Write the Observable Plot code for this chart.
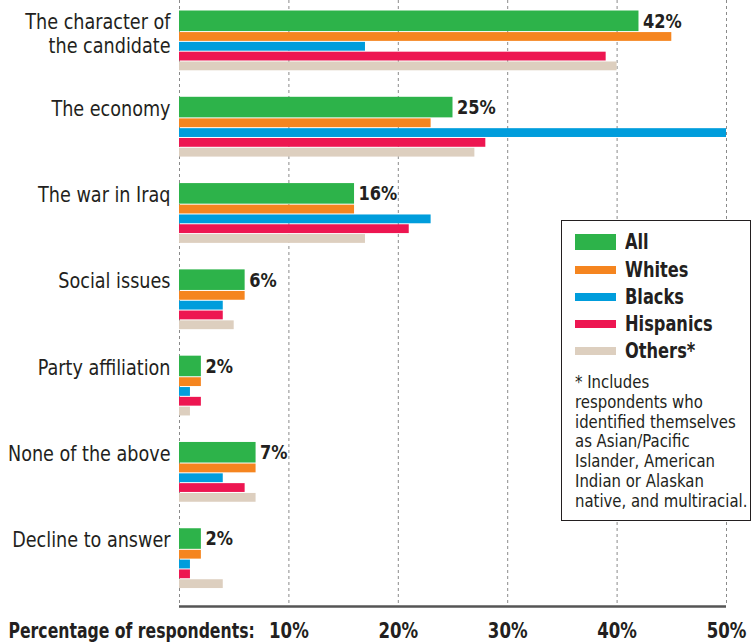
<!DOCTYPE html>
<html>
<head>
<meta charset="utf-8">
<script src="https://cdn.jsdelivr.net/npm/d3@7"></script>
<script src="https://cdn.jsdelivr.net/npm/@observablehq/plot@0.6"></script>
<style>
  html, body { margin: 0; padding: 0; background: #fff; }
  #wrap { position: relative; width: 752px; height: 644px; font-family: "DejaVu Sans Condensed", "DejaVu Sans", sans-serif; color: #231f20; }
  #legend { position: absolute; left: 561px; top: 220px; width: 188px; height: 299px; border: 1.5px solid #231f20; background: #fff; box-sizing: content-box; overflow: hidden; }
  .row { position: absolute; left: 13px; height: 27px; display: flex; align-items: center; white-space: nowrap; }
  .sw { width: 41px; margin-right: 9px; flex: none; }
  .lab { display: inline-block; font-weight: bold; font-size: 20.5px; line-height: 27px; transform: scaleX(0.88); transform-origin: left center; }
  #note { position: absolute; left: 13px; top: 151px; font-size: 18px; line-height: 19.8px; white-space: nowrap; transform: scaleX(0.92); transform-origin: left top; }
  #dbg { position: absolute; left: 300px; top: 60px; font: 10px monospace; white-space: pre; color: red; }
</style>
</head>
<body>
<div id="wrap"></div>
<script>
// ---- data ----
const categories = ["The character of\nthe candidate", "The economy", "The war in Iraq", "Social issues", "Party affiliation", "None of the above", "Decline to answer"];
const series = ["All", "Whites", "Blacks", "Hispanics", "Others"];
const legendLabels = ["All", "Whites", "Blacks", "Hispanics", "Others*"];
const allValues = [42, 25, 16, 6, 2, 7, 2];
const whitesValues = [45, 23, 16, 6, 2, 7, 2];
const blacksValues = [17, 50, 23, 4, 1, 4, 1];
const hispanicsValues = [39, 28, 21, 4, 2, 6, 1];
const othersValues = [40, 27, 17, 5, 1, 7, 4];
const xTicks = [10, 20, 30, 40, 50];
const gridTicks = [0, 10, 20, 30, 40, 50];
const colors = ["#2db34a", "#f5851f", "#009ddc", "#ed1651", "#ddcfbf"];
const axisTitle = "Percentage of respondents:";
const footnoteLines = ["* Includes", "respondents who", "identified themselves", "as Asian/Pacific", "Islander, American", "Indian or Alaskan", "native, and multiracial."];

// ---- layout (in row units) ----
const topPad = 1.02, allH = 2.2, oneH = 1.0, pitch = 8.8, yMax = 61.8;
const seriesValues = [allValues, whitesValues, blacksValues, hispanicsValues, othersValues];

const rows = [];
categories.forEach((c, i) => {
  const start = topPad + i * pitch;
  series.forEach((s, k) => {
    const y1 = k === 0 ? start : start + allH + (k - 1) * oneH;
    const y2 = k === 0 ? start + allH : y1 + oneH;
    rows.push({category: c, series: s, value: seriesValues[k][i], y1, y2});
  });
});
const labelRows = categories.map((c, i) => ({category: c, y: topPad + i * pitch + allH / 2, value: allValues[i]}));

const font = '"DejaVu Sans Condensed", "DejaVu Sans", sans-serif';

const chart = Plot.plot({
  width: 752,
  height: 644,
  marginLeft: 179,
  marginRight: 26,
  marginTop: 0,
  marginBottom: 38,
  style: {fontFamily: font, color: "#231f20", background: "#fff"},
  x: {domain: [0, 50], ticks: xTicks, tickFormat: d => d + "%", tickSize: 0, tickPadding: 17, label: null},
  y: {domain: [0, yMax], range: [0, 606], axis: null},
  color: {domain: series, range: colors},
  marks: [
    Plot.ruleX(gridTicks, {stroke: "#8a8a8a", strokeWidth: 1, strokeDasharray: "3,3"}),
    Plot.rectX(rows, {x: "value", y1: "y1", y2: "y2", fill: "series", insetTop: 0.5, insetBottom: 0.5}),
    Plot.ruleY([yMax], {stroke: "#555", strokeWidth: 2.5}),
    Plot.text(labelRows, {x: 0, y: "y", text: "category", textAnchor: "end", dx: -9, dy: -8.6, lineAnchor: "top", lineHeight: 1.07, fontSize: 22, fill: "#231f20"}),
    Plot.text(labelRows, {x: "value", y: "y", text: d => d.value + "%", textAnchor: "start", dx: 4, fontSize: 20, fontWeight: "bold", fill: "#231f20"}),
    Plot.text([axisTitle], {frameAnchor: "bottom-left", dx: -171, dy: 17, lineAnchor: "top", textAnchor: "start", fontSize: 20.5, fontWeight: "bold", fill: "#231f20"})
  ]
});
const svg = d3.select(chart);
svg.selectAll("g[aria-label='x-axis tick label'], g[aria-label='x-axis tick label'] text").attr("font-size", 20.5).attr("font-weight", "bold").attr("fill", "#231f20");

const catSet = new Set(categories.map(c => c.replace(/\n/g, "")));
let dbg = [];
svg.selectAll("text").each(function () {
  const txt = this.textContent;
  let sx = 0.89;
  if (txt === axisTitle) sx = 0.85;
  else if (/%$/.test(txt)) sx = 0.9;
  else if (!catSet.has(txt)) sx = 1;
  const t = this.getAttribute("transform");
  if (t) this.setAttribute("transform", t + ` scale(${sx},1)`);
  else {
    const x = +(this.getAttribute("x") || 0), y = +(this.getAttribute("y") || 0);
    this.removeAttribute("x"); this.removeAttribute("y");
    this.setAttribute("transform", `translate(${x},${y}) scale(${sx},1)`);
  }
  if (dbg.length < 0) dbg.push(txt + " | " + t);
});

const wrap = document.getElementById("wrap");
wrap.appendChild(chart);

const legend = document.createElement("div");
legend.id = "legend";
const rowCenters = [21, 49, 76, 103, 130];
legendLabels.forEach((l, k) => {
  const r = document.createElement("div");
  r.className = "row";
  r.style.top = (rowCenters[k] - 13.5) + "px";
  const sw = document.createElement("div");
  sw.className = "sw";
  sw.style.height = (k === 0 ? 16 : 8) + "px";
  sw.style.background = colors[k];
  const t = document.createElement("span");
  t.className = "lab";
  t.textContent = l;
  r.appendChild(sw); r.appendChild(t);
  legend.appendChild(r);
});
const note = document.createElement("div");
note.id = "note";
footnoteLines.forEach(line => {
  const d = document.createElement("div");
  d.textContent = line;
  note.appendChild(d);
});
legend.appendChild(note);
wrap.appendChild(legend);
</script>
</body>
</html>
